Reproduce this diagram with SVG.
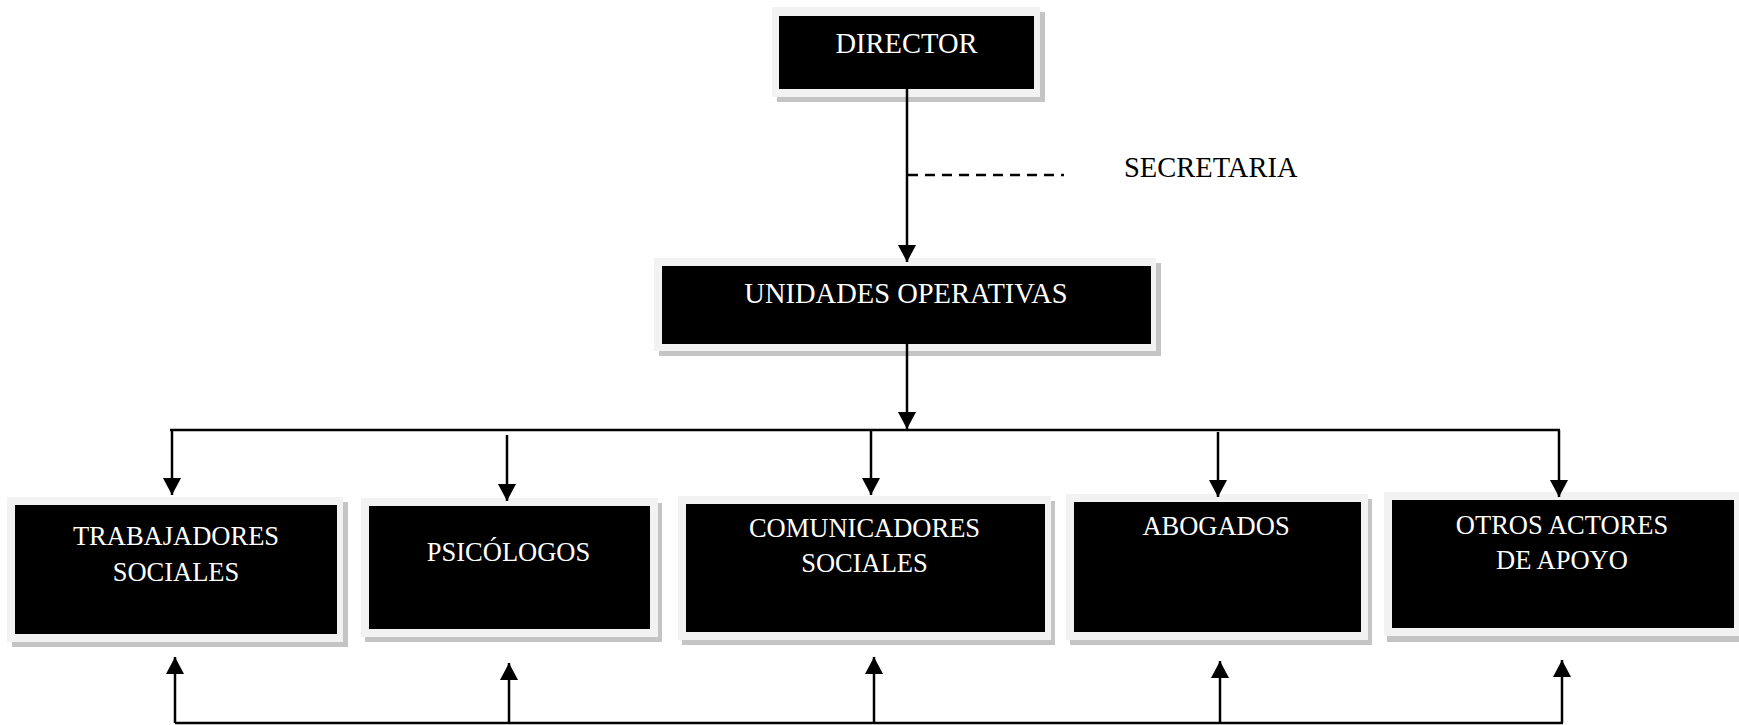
<svg xmlns="http://www.w3.org/2000/svg" width="1739" height="725" viewBox="0 0 1739 725">
<style>
.sh{fill:#c4c4c4}
.fr{fill:#f2f2f2}
.bk{fill:#000}
.t{font-family:"Liberation Serif","Times New Roman",serif;fill:#fff;text-anchor:middle}
.top{font-size:28.5px}
.low{font-size:26.5px}
.ln{stroke:#000;stroke-width:2.5;fill:none}
.dash{stroke:#000;stroke-width:2.5;stroke-dasharray:10 7;fill:none}
</style>
<defs>
<marker id="ah" markerUnits="userSpaceOnUse" markerWidth="20" markerHeight="20" viewBox="0 0 20 20" refX="17" refY="10" orient="auto" overflow="visible">
<path d="M0,1 L17,10 L0,19 z" fill="#000"/>
</marker>
</defs>
<rect x="0" y="0" width="1739" height="725" fill="#fff"/>
<g id="director">
<rect class="sh" x="777" y="12" width="268" height="90"/>
<rect class="fr" x="772" y="7" width="268" height="90"/>
<rect class="bk" x="779" y="16" width="255" height="73"/>
<text class="t top" x="906.5" y="53">DIRECTOR</text>
</g>
<g id="secretaria">
<text x="1124" y="177" font-family="Liberation Serif, Times New Roman, serif" font-size="28.5" fill="#000">SECRETARIA</text>
</g>
<g id="unidades">
<rect class="sh" x="659" y="263" width="502" height="93"/>
<rect class="fr" x="654" y="258" width="502" height="93"/>
<rect class="bk" x="662" y="266" width="489" height="78"/>
<text class="t top" x="906" y="303">UNIDADES OPERATIVAS</text>
</g>
<g id="trabajadores">
<rect class="sh" x="12" y="502" width="336" height="145"/>
<rect class="fr" x="7" y="497" width="336" height="145"/>
<rect class="bk" x="15" y="505" width="322" height="129"/>
<text class="t low" x="176" y="545">TRABAJADORES</text>
<text class="t low" x="176" y="581">SOCIALES</text>
</g>
<g id="psicologos">
<rect class="sh" x="365" y="503" width="297" height="139"/>
<rect class="fr" x="361" y="498" width="297" height="139"/>
<rect class="bk" x="369" y="506" width="281" height="123"/>
<text class="t low" x="508.5" y="561">PSICÓLOGOS</text>
</g>
<g id="comunicadores">
<rect class="sh" x="682" y="501" width="373" height="144"/>
<rect class="fr" x="678" y="496" width="373" height="144"/>
<rect class="bk" x="686" y="504" width="359" height="128"/>
<text class="t low" x="864.5" y="537">COMUNICADORES</text>
<text class="t low" x="864.5" y="572">SOCIALES</text>
</g>
<g id="abogados">
<rect class="sh" x="1070" y="499" width="302" height="146"/>
<rect class="fr" x="1066" y="494" width="302" height="146"/>
<rect class="bk" x="1074" y="502" width="287" height="130"/>
<text class="t low" x="1216" y="535">ABOGADOS</text>
</g>
<g id="otros">
<rect class="sh" x="1387" y="498" width="360" height="144"/>
<rect class="fr" x="1384" y="492" width="360" height="144"/>
<rect class="bk" x="1392" y="500" width="342" height="128"/>
<text class="t low" x="1562" y="534">OTROS ACTORES</text>
<text class="t low" x="1562" y="569">DE APOYO</text>
</g>
<g id="connectors">
<line class="ln" x1="907" y1="89" x2="907" y2="262" marker-end="url(#ah)"/>
<line class="dash" x1="908" y1="175" x2="1064" y2="175"/>
<line class="ln" x1="907" y1="344" x2="907" y2="429" marker-end="url(#ah)"/>
<line class="ln" x1="170" y1="430" x2="1560" y2="430"/>
<line class="ln" x1="172" y1="430" x2="172" y2="495" marker-end="url(#ah)"/>
<line class="ln" x1="507" y1="435" x2="507" y2="501" marker-end="url(#ah)"/>
<line class="ln" x1="871" y1="430" x2="871" y2="495" marker-end="url(#ah)"/>
<line class="ln" x1="1218" y1="432" x2="1218" y2="497" marker-end="url(#ah)"/>
<line class="ln" x1="1559" y1="430" x2="1559" y2="497" marker-end="url(#ah)"/>
<line class="ln" x1="175" y1="723" x2="1563" y2="723"/>
<line class="ln" x1="175" y1="723" x2="175" y2="657" marker-end="url(#ah)"/>
<line class="ln" x1="509" y1="723" x2="509" y2="663" marker-end="url(#ah)"/>
<line class="ln" x1="874" y1="723" x2="874" y2="657" marker-end="url(#ah)"/>
<line class="ln" x1="1220" y1="723" x2="1220" y2="661" marker-end="url(#ah)"/>
<line class="ln" x1="1562" y1="723" x2="1562" y2="660" marker-end="url(#ah)"/>
</g>
</svg>
